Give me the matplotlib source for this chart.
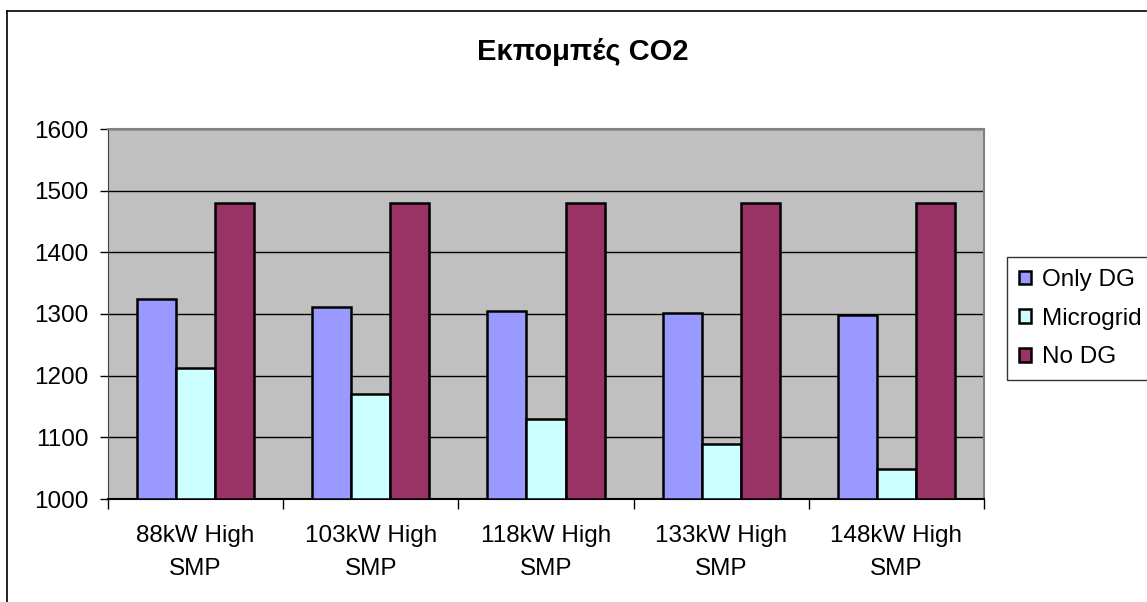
import numpy as np
import matplotlib
matplotlib.use("Agg")
import matplotlib.pyplot as plt
from matplotlib.lines import Line2D

plt.rcParams['font.family'] = ['Liberation Sans', 'DejaVu Sans']

categories = ["88kW High\nSMP", "103kW High\nSMP", "118kW High\nSMP",
              "133kW High\nSMP", "148kW High\nSMP"]
only_dg = [1324, 1312, 1305, 1301, 1298]
microgrid = [1212, 1170, 1130, 1090, 1049]
no_dg = [1480, 1480, 1480, 1480, 1480]
series_names = ["Only DG", "Microgrid", "No DG"]
colors = ["#9999FF", "#CCFFFF", "#993366"]

W, H = 1147, 602
fig = plt.figure(figsize=(W / 100, H / 100), dpi=100)
ax = fig.add_axes([108 / W, 1 - 499 / H, (984 - 108) / W, (499 - 129) / H])
ax.set_facecolor("#C0C0C0")

x = np.arange(len(categories))
bw = 0.223
for i, (vals, name, c) in enumerate(zip([only_dg, microgrid, no_dg], series_names, colors)):
    ax.bar(x + (i - 1) * bw, np.array(vals) - 1000, bw, bottom=1000, color=c,
           edgecolor="black", linewidth=1.8, label=name, zorder=3)

ax.set_ylim(1000, 1600)
ax.set_xlim(-0.5, len(categories) - 0.5)
ax.set_yticks(range(1000, 1601, 100))
ax.yaxis.grid(True, color="black", linewidth=1.0, zorder=1)
ax.set_axisbelow(True)

ax.set_xticks(x)
ax.set_xticklabels(categories, fontsize=17.5, linespacing=1.62)
ax.set_xticks(np.arange(-0.5, len(categories)), minor=True)
ax.tick_params(axis="x", which="major", length=0, pad=19)
ax.tick_params(axis="x", which="minor", length=7, width=1, color="black", direction="out")
ax.tick_params(axis="y", labelsize=17.5, length=6, width=1, pad=8, direction="out")

for s in ["top", "right"]:
    ax.spines[s].set_color("#808080")
    ax.spines[s].set_linewidth(1.5)
ax.spines["left"].set_color("#404040")
ax.spines["bottom"].set_color("black")
ax.spines["bottom"].set_linewidth(1.5)

fig.text(583 / W, 1 - 52 / H, "Εκπομπές CO2", ha="center", va="center",
         fontsize=21, fontweight="bold")

leg = fig.legend(loc="upper left", bbox_to_anchor=(1007 / W, 1 - 257 / H),
                 fontsize=17.5, frameon=True, fancybox=False, borderaxespad=0,
                 handlelength=0.5, handleheight=0.5, handletextpad=0.45,
                 labelspacing=0.68, borderpad=0.5)
leg.get_frame().set_edgecolor("black")
leg.get_frame().set_linewidth(1.0)

# chart outer frame (only top and left visible in the crop)
fig.add_artist(Line2D([7 / W, 1], [1 - 11 / H, 1 - 11 / H], color="black", linewidth=1.2))
fig.add_artist(Line2D([7 / W, 7 / W], [0, 1 - 11 / H], color="black", linewidth=1.2))

fig.savefig("out.png", dpi=100)
